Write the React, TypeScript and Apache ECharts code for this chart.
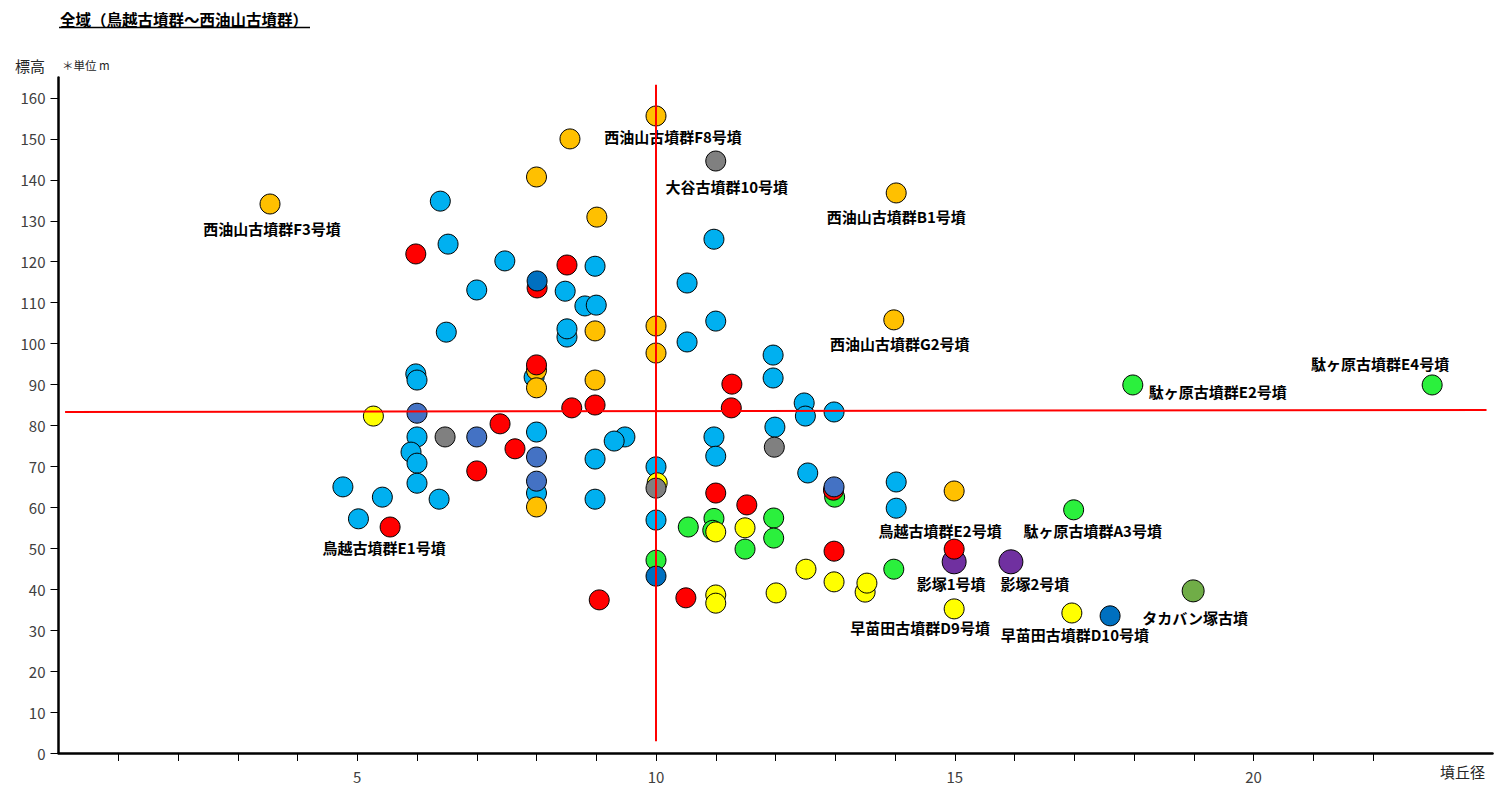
import { useEffect, useRef } from "react";
import * as echarts from "echarts";

// Each mound: [墳丘径 (m), 標高 (m), optional name]
type Mound = [number, number, string?];

const xTicks = [1, 2, 3, 4, 5, 6, 7, 8, 9, 10, 11, 12, 13, 14, 15, 16, 17, 18, 19, 20, 21, 22];
const xLabels = [5, 10, 15, 20];
const yTicks = [0, 10, 20, 30, 40, 50, 60, 70, 80, 90, 100, 110, 120, 130, 140, 150, 160];

const lightBlueMounds: Mound[] = [
  [6.39, 134.8], [6.52, 124.3], [7.47, 120.2], [7.0, 113.1], [8.48, 112.8], [8.98, 118.9],
  [8.81, 109.2], [9.0, 109.4], [8.51, 101.6], [8.51, 103.6], [6.49, 102.8], [5.98, 92.6],
  [6.0, 91.1], [7.96, 91.8], [10.0, 69.9], [10.52, 114.8], [10.97, 125.5], [11.0, 105.5],
  [10.52, 100.4], [11.96, 97.2], [11.96, 91.6], [12.48, 85.5], [12.5, 82.3], [12.98, 83.3],
  [11.99, 79.6], [10.97, 77.2], [11.0, 72.5], [12.54, 68.4], [14.02, 66.2], [14.02, 59.8],
  [9.48, 77.2], [9.3, 76.2], [8.98, 71.8], [8.98, 62.0], [8.0, 78.4], [8.0, 63.5],
  [6.0, 77.2], [5.9, 73.5], [6.0, 70.8], [6.0, 65.9], [4.76, 65.0], [5.42, 62.5],
  [5.02, 57.2], [6.37, 62.0], [10.0, 56.9],
];

const greenMounds: Mound[] = [
  [17.98, 89.9, "駄ヶ原古墳群E2号墳"], [22.99, 89.9, "駄ヶ原古墳群E4号墳"],
  [16.99, 59.4, "駄ヶ原古墳群A3号墳"], [10.54, 55.2], [10.97, 57.3], [10.95, 54.4],
  [11.49, 49.8], [11.97, 57.4], [11.97, 52.5], [12.99, 62.5], [13.98, 44.9], [10.0, 47.1],
];

const yellowMounds: Mound[] = [
  [5.27, 82.3], [10.02, 66.0], [11.0, 54.0], [11.49, 55.0], [11.0, 38.6], [11.0, 36.6],
  [12.01, 39.1], [12.51, 44.9], [12.98, 41.8], [13.5, 39.3], [13.53, 41.5],
  [14.99, 35.2, "早苗田古墳群D9号墳"], [16.96, 34.2, "早苗田古墳群D10号墳"],
];

const purpleMounds: Mound[] = [
  [14.99, 46.7, "影塚1号墳"], [15.94, 46.7, "影塚2号墳"],
];

const orangeMounds: Mound[] = [
  [3.54, 134.1, "西油山古墳群F3号墳"], [10.0, 155.6, "西油山古墳群F8号墳"], [8.56, 150.0],
  [8.0, 140.7], [9.01, 130.9], [14.02, 136.8, "西油山古墳群B1号墳"], [8.98, 103.1],
  [10.0, 104.3], [10.0, 97.7], [13.98, 105.8, "西油山古墳群G2号墳"], [8.98, 91.1],
  [8.0, 93.5], [8.0, 89.2], [8.0, 60.1], [14.99, 64.0],
];

const redMounds: Mound[] = [
  [5.98, 121.9], [8.51, 119.2], [8.01, 113.6], [8.0, 94.8], [11.27, 90.1], [8.59, 84.3],
  [8.98, 85.0], [11.26, 84.3], [7.39, 80.4], [7.64, 74.3], [7.0, 68.9],
  [5.55, 55.2, "鳥越古墳群E1号墳"], [11.0, 63.5], [11.52, 60.6], [12.97, 64.2], [12.98, 49.3],
  [14.99, 49.8, "鳥越古墳群E2号墳"], [9.05, 37.4], [10.5, 37.9],
];

const grayMounds: Mound[] = [
  [11.0, 144.6, "大谷古墳群10号墳"], [6.47, 77.2], [10.0, 64.7], [11.98, 74.7],
];

const steelBlueMounds: Mound[] = [
  [6.0, 83.0], [7.0, 77.2], [8.0, 72.3], [8.0, 66.4], [12.98, 65.0],
];

const darkBlueMounds: Mound[] = [
  [8.01, 115.3], [10.0, 43.2], [17.6, 33.5],
];

const oliveMounds: Mound[] = [
  [18.99, 39.6, "タカバン塚古墳"],
];

// Reference lines: average elevation (horizontal) and 10 m diameter (vertical)
const elevationLine: [number, number][] = [[0.11, 83.3], [23.9, 83.8]];
const diameterLine: [number, number][] = [[10, 2.9], [10, 163.2]];

// Pixel offsets of each name label from its marker centre
const labelOffset: Record<string, [number, number]> = {
  "西油山古墳群F3号墳": [2, 24],
  "西油山古墳群F8号墳": [17, 21],
  "大谷古墳群10号墳": [11, 25],
  "西油山古墳群B1号墳": [0, 24],
  "西油山古墳群G2号墳": [6, 24],
  "駄ヶ原古墳群E4号墳": [-52, -21],
  "駄ヶ原古墳群E2号墳": [85, 7],
  "駄ヶ原古墳群A3号墳": [19, 21],
  "鳥越古墳群E2号墳": [-14, -19],
  "鳥越古墳群E1号墳": [-6, 20],
  "影塚1号墳": [-3, 22],
  "影塚2号墳": [24, 22],
  "早苗田古墳群D9号墳": [-34, 19],
  "早苗田古墳群D10号墳": [3, 22],
  "タカバン塚古墳": [2, 27],
};

const FONT = "'Noto Sans CJK JP', 'Noto Sans', sans-serif";

function toData(list: Mound[]) {
  return list.map(([x, y, name]) => {
    if (!name) return { value: [x, y] };
    return {
      value: [x, y],
      name,
      label: { show: true, offset: labelOffset[name] ?? [0, 22] },
    };
  });
}

function scatter(list: Mound[], color: string, size = 20) {
  return {
    type: "scatter",
    data: toData(list),
    symbol: "circle",
    symbolSize: size,
    itemStyle: { color, borderColor: "#000", borderWidth: 1, opacity: 1 },
    label: {
      show: false,
      position: "inside",
      formatter: "{b}",
      fontFamily: FONT,
      fontSize: 15,
      fontWeight: "bold",
      color: "#000",
    },
    emphasis: { disabled: true },
  };
}

export default function App() {
  const ref = useRef<HTMLDivElement>(null);

  useEffect(() => {
    if (!ref.current) return;
    const chart = echarts.init(ref.current, undefined, { renderer: "svg" });
    chart.setOption({
      animation: false,
      backgroundColor: "#fff",
      grid: { left: 58.5, right: 6.5, top: 77.5, bottom: 48 },
      xAxis: {
        type: "value",
        min: 0,
        max: 24,
        interval: 1,
        splitLine: { show: false },
        axisLine: { lineStyle: { color: "#000", width: 2.5 } },
        axisTick: {
          show: true,
          customValues: xTicks,
          length: 8,
          lineStyle: { color: "#000", width: 1 },
        },
        axisLabel: {
          customValues: xLabels,
          margin: 16,
          fontFamily: FONT,
          fontSize: 15,
          color: "#404040",
        },
      },
      yAxis: {
        type: "value",
        min: 0,
        max: 165,
        interval: 10,
        splitLine: { show: false },
        axisLine: { show: true, lineStyle: { color: "#000", width: 2.5 } },
        axisTick: {
          show: true,
          customValues: yTicks,
          length: 8,
          lineStyle: { color: "#000", width: 1 },
        },
        axisLabel: {
          customValues: yTicks,
          margin: 13,
          fontFamily: FONT,
          fontSize: 15,
          color: "#404040",
        },
      },
      series: [
        {
          type: "line",
          data: elevationLine,
          symbol: "none",
          lineStyle: { color: "#ff0000", width: 2 },
          silent: true,
        },
        scatter(lightBlueMounds, "#00B0F0"),
        scatter(greenMounds, "#2BF03D"),
        scatter(yellowMounds, "#FFFF00"),
        scatter(purpleMounds, "#7030A0", 24),
        scatter(orangeMounds, "#FFC000"),
        scatter(redMounds, "#FF0000"),
        scatter(grayMounds, "#808080"),
        scatter(steelBlueMounds, "#4472C4"),
        scatter(darkBlueMounds, "#0070C0"),
        scatter(oliveMounds, "#70AD47", 22),
        {
          type: "line",
          data: diameterLine,
          symbol: "none",
          lineStyle: { color: "#ff0000", width: 2 },
          silent: true,
        },
      ],
      graphic: [
        {
          type: "text",
          x: 60,
          y: 19,
          style: {
            text: "全域（鳥越古墳群～西油山古墳群）",
            fontFamily: FONT,
            fontSize: 15.5,
            fontWeight: "bold",
            fill: "#000",
            textAlign: "left",
            textVerticalAlign: "middle",
          },
        },
        {
          type: "line",
          shape: { x1: 59, y1: 27.5, x2: 310, y2: 27.5 },
          style: { stroke: "#000", lineWidth: 1.5 },
        },
        {
          type: "text",
          x: 15,
          y: 65,
          style: {
            text: "標高",
            fontFamily: FONT,
            fontSize: 15,
            fill: "#262626",
            textAlign: "left",
            textVerticalAlign: "middle",
          },
        },
        {
          type: "text",
          x: 62,
          y: 65,
          style: {
            text: "＊単位 m",
            fontFamily: FONT,
            fontSize: 11.5,
            fill: "#262626",
            textAlign: "left",
            textVerticalAlign: "middle",
          },
        },
        {
          type: "text",
          x: 1440,
          y: 771,
          style: {
            text: "墳丘径",
            fontFamily: FONT,
            fontSize: 15,
            fill: "#262626",
            textAlign: "left",
            textVerticalAlign: "middle",
          },
        },
      ],
    });
    return () => chart.dispose();
  }, []);

  return (
    <div
      ref={ref}
      style={{ position: "fixed", left: 0, top: 0, width: 1499, height: 801 }}
    />
  );
}
